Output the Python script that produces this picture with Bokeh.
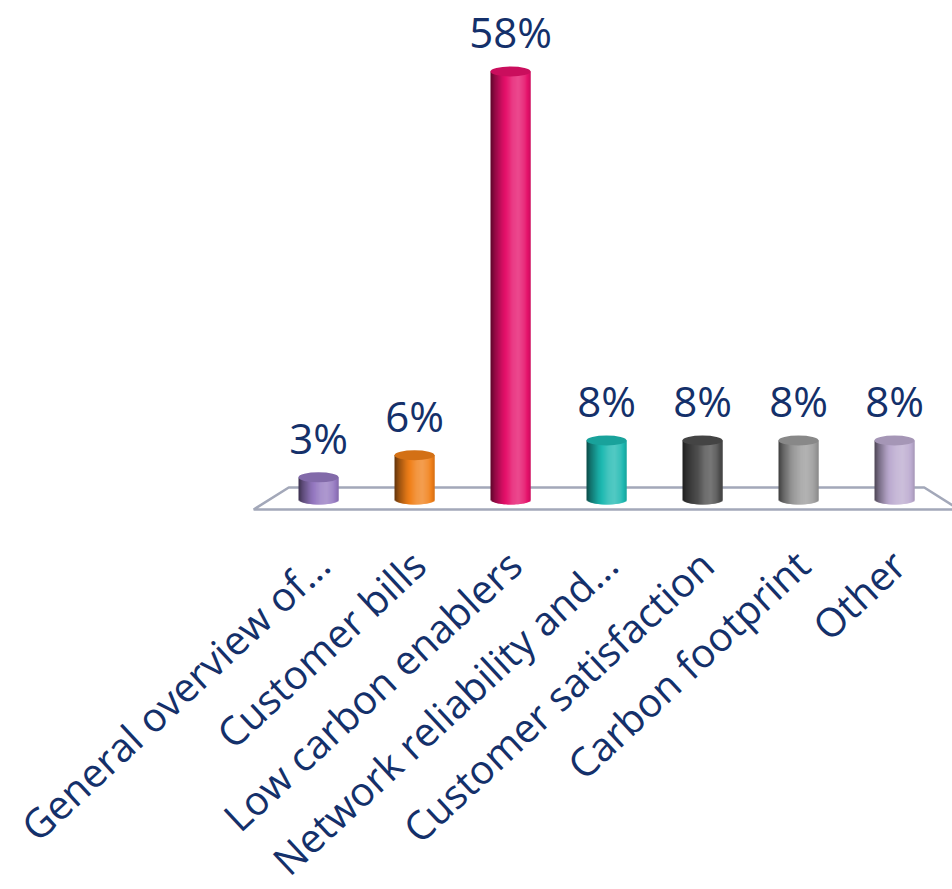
import numpy as np
from bokeh.plotting import figure
from bokeh.models import Range1d, ColumnDataSource
from bokeh.core.properties import value
from bokeh.embed import file_html
from bokeh.resources import INLINE

# ---- data ----
categories = ["General overview of...", "Customer bills", "Low carbon enablers",
              "Network reliability and...", "Customer satisfaction",
              "Carbon footprint", "Other"]
percent = [3, 6, 58, 8, 8, 8, 8]
bar_colors = ["#9478C0", "#F07F18", "#E5106A", "#1CB8B0", "#4D4D4D", "#9A9A9A", "#BBAACF"]

NAVY = "#14306A"
FONT = "Open Sans"

n = len(categories)
idx = np.arange(n)

# pixel geometry -> data ranges (frame covers the whole canvas)
W, H = 952, 889
PX_PER_UNIT_X = 96.0
FIRST_CENTER_PX = 318.0
PX_PER_PCT = 7.38
BASE_PX = 499.0

x_start = -FIRST_CENTER_PX / PX_PER_UNIT_X
x_end = x_start + W / PX_PER_UNIT_X
y_end = BASE_PX / PX_PER_PCT
y_start = -(H - BASE_PX) / PX_PER_PCT

p = figure(width=W, height=H, x_range=Range1d(x_start, x_end), y_range=Range1d(y_start, y_end),
           output_backend="svg", toolbar_location=None,
           x_axis_location=None, y_axis_location=None, min_border=0)
p.grid.visible = False
p.outline_line_color = None
p.background_fill_color = "white"
p.border_fill_color = "white"

# ---- floor ----
bw = 40.0 / PX_PER_UNIT_X          # bar width in x units
cap = 5.0 / PX_PER_PCT             # cap semi-height in % units
pad = 0.31
depth_dx = 0.365
y_back = 12.0 / PX_PER_PCT
y_front = -10.0 / PX_PER_PCT
fx = [-pad, (n - 1) + pad, (n - 1) + pad + depth_dx, -pad - depth_dx]
fy = [y_back, y_back, y_front, y_front]
p.patch(fx, fy, fill_color="white", line_color="#A3A8B9", line_width=2.6)

# ---- cylinders ----
def hex2rgb(h):
    h = h.lstrip("#")
    return np.array([int(h[k:k + 2], 16) for k in (0, 2, 4)], dtype=float)

def rgb2hex(c):
    c = np.clip(np.round(c), 0, 255).astype(int)
    return "#%02x%02x%02x" % tuple(c)

def shade(h, s):
    c = hex2rgb(h)
    if s >= 0:
        c = c + (255 - c) * s
    else:
        c = c * (1 + s)
    return rgb2hex(c)

prof_t = [0.0, 0.1, 0.3, 0.55, 0.7, 0.85, 1.0]
prof_s = [-0.6, -0.38, -0.08, 0.18, 0.24, 0.12, -0.12]

N = 40
xs, bottoms, tops, widths, cols = [], [], [], [], []
for i in range(n):
    for j in range(N):
        t = (j + 0.5) / N
        u = 2 * t - 1
        last = (j == N - 1)
        xs.append(idx[i] - bw / 2 + t * bw + (0 if last else bw / N * 0.5))
        bottoms.append(-cap * np.sqrt(max(0.0, 1 - u * u)))
        tops.append(percent[i])
        widths.append(bw / N * (1.0 if last else 2.0))
        cols.append(shade(bar_colors[i], float(np.interp(t, prof_t, prof_s))))

src = ColumnDataSource(dict(x=xs, bottom=bottoms, top=tops, w=widths, c=cols))
p.vbar(x="x", bottom="bottom", top="top", width="w", fill_color="c", line_color=None, source=src)

cap_cols = [shade(c, -0.12) for c in bar_colors]
p.ellipse(x=idx, y=percent, width=bw, height=2 * cap, fill_color=cap_cols, line_color=None)

# ---- value labels ----
p.text(x=idx, y=percent, text=[f"{v}%" for v in percent], text_align="center",
       text_baseline="alphabetic", y_offset=-40, text_color=NAVY,
       text_font=value(FONT), text_font_size="42px")

# ---- category labels (rotated) ----
p.text(x=idx, y=[0] * n, text=categories, angle=0.75, text_align="right",
       text_baseline="middle", x_offset=4, y_offset=58, text_color=NAVY,
       text_font=value(FONT), text_font_size="40px")

open("out.html", "w").write(file_html(p, INLINE))
